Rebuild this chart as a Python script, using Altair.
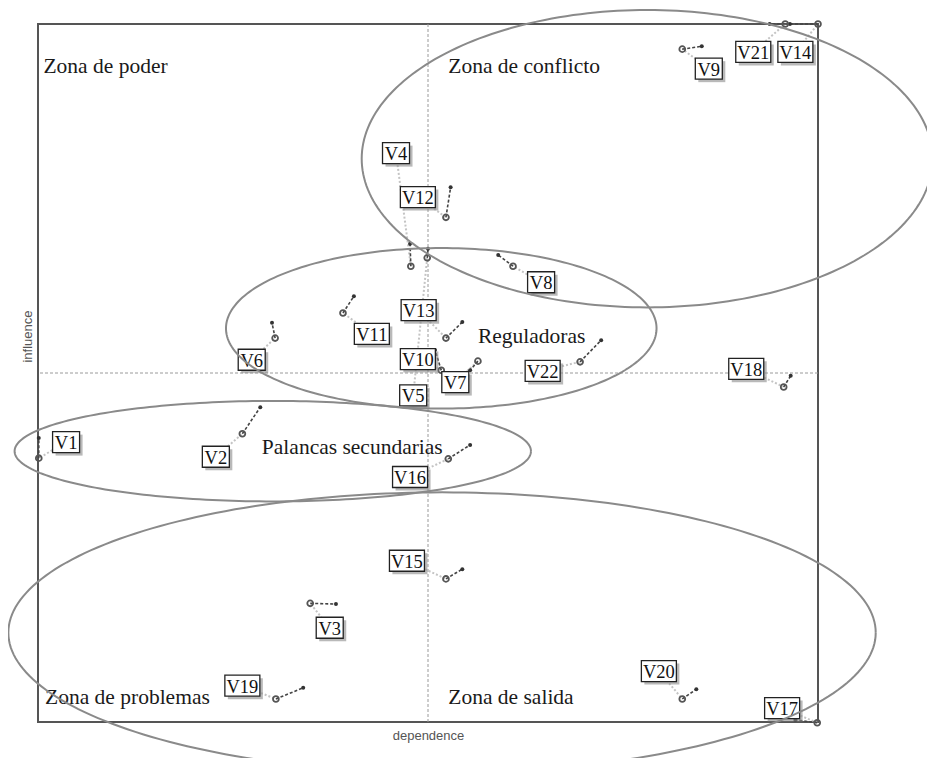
import altair as alt
import pandas as pd
import numpy as np

# --- variables: direct position (circle), indirect position (dot), label box centre
names = ["V1", "V2", "V3", "V4", "V5", "V6", "V7", "V8", "V9", "V10", "V11",
         "V12", "V13", "V14", "V15", "V16", "V17", "V18", "V19", "V20", "V21", "V22"]
dep_direct = [0.1, 26.2, 34.9, 47.8, 49.9, 30.4, 56.4, 60.9, 82.6, 51.7, 39.1,
              52.3, 52.3, 100.0, 52.3, 52.6, 99.9, 95.6, 30.5, 82.6, 95.8, 69.5]
inf_direct = [37.8, 41.3, 17.0, 65.3, 66.5, 55.0, 51.7, 65.3, 96.4, 50.4, 58.6,
              72.3, 55.0, 100.0, 20.5, 37.7, -0.1, 48.0, 3.3, 3.3, 100.0, 51.6]
dep_indirect = [0.1, 28.5, 38.2, 47.7, 50.0, 30.0, 55.4, 59.0, 85.1, 50.9, 40.5,
                52.9, 54.4, 96.4, 54.4, 55.4, 97.1, 96.5, 34.0, 84.4, 93.8, 72.2]
inf_indirect = [40.7, 45.1, 16.9, 68.5, 67.8, 57.2, 50.4, 66.9, 96.8, 53.3, 61.0,
                76.6, 57.3, 100.0, 21.9, 39.7, 0.3, 49.6, 4.9, 4.7, 100.0, 54.7]
label_x = [3.6, 22.8, 37.4, 45.9, 48.1, 27.4, 53.5, 64.5, 86.0, 48.7, 42.8,
           48.7, 48.8, 97.1, 47.3, 47.7, 95.4, 90.8, 26.2, 79.6, 91.7, 64.7]
label_y = [40.1, 38.0, 13.5, 81.5, 46.8, 51.9, 48.7, 63.0, 93.6, 52.0, 55.6,
           75.2, 59.0, 96.0, 23.1, 35.1, 2.0, 50.6, 5.2, 7.3, 96.0, 50.3]

# --- zone labels
zone_text = ["Zona de poder", "Zona de conflicto", "Zona de problemas", "Zona de salida",
             "Reguladoras", "Palancas secundarias"]
zone_x = [0.7, 52.6, 0.9, 52.6, 56.4, 28.7]
zone_y = [93.0, 93.0, 2.6, 2.6, 54.3, 38.4]

# --- ellipses (centre x, centre y, radius x, radius y) in data units
ell_names = ["conflicto", "reguladoras", "palancas", "salida"]
ell_cx = [78.1, 51.7, 30.1, 51.8]
ell_cy = [80.7, 56.4, 38.8, 12.8]
ell_rx = [36.6, 27.6, 33.1, 55.6]
ell_ry = [21.3, 11.5, 7.2, 20.1]

center_val = [50]

vars_df = pd.DataFrame({
    "name": names, "dx": dep_direct, "dy": inf_direct,
    "ix": dep_indirect, "iy": inf_indirect, "lx": label_x, "ly": label_y,
})
zones_df = pd.DataFrame({"text": zone_text, "zx": zone_x, "zy": zone_y})

rows = []
t = np.linspace(0, 2 * np.pi, 241)
for n, cx, cy, rx, ry in zip(ell_names, ell_cx, ell_cy, ell_rx, ell_ry):
    for k, tt in enumerate(t):
        rows.append({"ellipse": n, "k": k, "ex": cx + rx * np.cos(tt), "ey": cy + ry * np.sin(tt)})
ell_df = pd.DataFrame(rows)
center_df = pd.DataFrame({"c": center_val})

xs = alt.Scale(domain=[0, 100], nice=False, zero=False)
ys = alt.Scale(domain=[0, 100], nice=False, zero=False)

x_axis = alt.Axis(title="dependence", labels=False, ticks=False, domain=False, grid=False,
                  titleFont="Liberation Sans", titleFontSize=13, titleFontWeight="normal",
                  titleColor="#555555", titleBaseline="middle", titleY=13)
y_axis = alt.Axis(title="influence", labels=False, ticks=False, domain=False, grid=False,
                  titleFont="Liberation Sans", titleFontSize=13, titleFontWeight="normal",
                  titleColor="#555555", titleBaseline="middle", titleAngle=-90,
                  titleAlign="center", titleX=-11, titleY=312)


def X(f):
    return alt.X(f, scale=xs, axis=x_axis)


def Y(f):
    return alt.Y(f, scale=ys, axis=y_axis)


base = alt.Chart(vars_df)

vline = alt.Chart(center_df).mark_rule(color="#9a9a9a", strokeDash=[3, 2], strokeWidth=1).encode(
    x=X("c:Q"))
hline = alt.Chart(center_df).mark_rule(color="#9a9a9a", strokeDash=[3, 2], strokeWidth=1).encode(
    y=Y("c:Q"))

leaders = base.mark_rule(color="#c4c4c4", strokeDash=[2, 2], strokeWidth=2).encode(
    x=X("lx:Q"), y=Y("ly:Q"), x2="dx:Q", y2="dy:Q")

moves = base.mark_rule(color="#444", strokeDash=[3, 2], strokeWidth=1.6).encode(
    x=X("dx:Q"), y=Y("dy:Q"), x2="ix:Q", y2="iy:Q")

ends = base.mark_point(filled=True, size=16, color="#333", opacity=1).encode(
    x=X("ix:Q"), y=Y("iy:Q"))

circles = base.mark_point(filled=False, size=34, color="#555", strokeWidth=1.8, opacity=1).encode(
    x=X("dx:Q"), y=Y("dy:Q"))


def boxes(nchar, half_w):
    sub = base.transform_filter(f"length(datum.name) == {nchar}")
    enc = dict(x=X("lx:Q"), x2="lx:Q", y=Y("ly:Q"), y2="ly:Q")
    shadow = sub.mark_rect(fill="#8a8a8a", opacity=0.6,
                           xOffset=-half_w + 3, x2Offset=half_w + 3,
                           yOffset=-10.5 + 3, y2Offset=10.5 + 3).encode(**enc)
    box = sub.mark_rect(fill="white", stroke="#222", strokeWidth=1.3,
                        xOffset=-half_w, x2Offset=half_w,
                        yOffset=-10.5, y2Offset=10.5).encode(**enc)
    return [shadow, box]


labels = base.mark_text(font="Liberation Serif", fontSize=18.5, color="#111",
                        align="center", baseline="middle", dy=1).encode(
    x=X("lx:Q"), y=Y("ly:Q"), text="name:N")

zones = alt.Chart(zones_df).mark_text(font="Liberation Serif", fontSize=21.5, color="#1a1a1a",
                                      align="left", baseline="alphabetic").encode(
    x=X("zx:Q"), y=Y("zy:Q"), text="text:N")

ellipses = alt.Chart(ell_df).mark_line(color="#8a8a8a", strokeWidth=2).encode(
    x=X("ex:Q"), y=Y("ey:Q"), detail="ellipse:N", order="k:Q")

chart = alt.layer(
    vline, hline, leaders, moves, ends, circles,
    *boxes(2, 13.5), *boxes(3, 17.5),
    labels, zones, ellipses,
).properties(
    width=780, height=698,
    padding={"left": 30, "top": 16, "right": 109, "bottom": 36},
    autosize=alt.AutoSizeParams(type="none"),
).configure_view(stroke="#555", strokeWidth=2)

chart.save("out.html", embed_options={"renderer": "svg", "actions": False})
